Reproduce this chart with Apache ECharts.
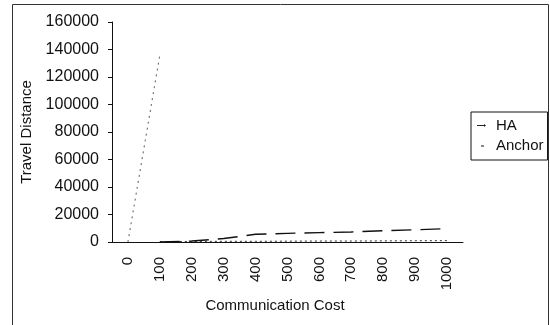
<!DOCTYPE html>
<html>
<head>
<meta charset="utf-8">
<script src="https://cdn.jsdelivr.net/npm/echarts@6/dist/echarts.min.js"></script>
<style>html,body{margin:0;padding:0;background:#fff;}#c{width:550px;height:325px;}</style>
</head>
<body>
<div id="c"></div>
<script>
var categories = ['0','100','200','300','400','500','600','700','800','900','1000'];
var haValues = [null, 300, 400, 500, 500, 600, 700, 700, 800, 900, 1000];
var anchorValues = [null, 0, 700, 2500, 5600, 6300, 6800, 7300, 8200, 8900, 9700];
var spikeValues = [0, 136000, null, null, null, null, null, null, null, null, null];
var yTicks = {min: 0, max: 160000, interval: 20000};

var font = 'Liberation Sans';
var chart = echarts.init(document.getElementById('c'), null, {renderer: 'canvas'});
chart.setOption({
  animation: false,
  backgroundColor: '#fff',
  grid: {left: 112, right: 87, top: 22, bottom: 83},
  graphic: [{
    type: 'rect', silent: true, z: 100,
    shape: {x: 12.5, y: 4.5, width: 536, height: 340},
    style: {fill: 'none', stroke: '#333', lineWidth: 1}
  }],
  legend: {
    orient: 'vertical', left: 471, top: 112,
    backgroundColor: '#fff',
    borderColor: '#111', borderWidth: 1, borderRadius: 0,
    padding: [6, 4, 7, 6], itemGap: 5,
    itemWidth: 9, itemHeight: 8,
    textStyle: {fontFamily: font, fontSize: 15, color: '#111', padding: [0, 0, 0, 5]},
    data: [
      {name: 'HA', icon: 'path://M0,4 L7,4 L7,3 L9,4.5 L7,6 L7,5 L0,5 Z', itemStyle: {color: '#222'}},
      {name: 'Anchor', icon: 'path://M0,0 M9,8 M4,4 L7,4 L7,5 L4,5 Z', itemStyle: {color: '#111'}}
    ]
  },
  xAxis: {
    type: 'category', data: categories, boundaryGap: true,
    name: 'Communication Cost', nameLocation: 'middle', nameGap: 56,
    nameTextStyle: {fontFamily: font, fontSize: 15, color: '#111', padding: [0, 25, 0, 0]},
    axisLine: {lineStyle: {color: '#111', width: 1}},
    axisTick: {inside: true, length: 4, lineStyle: {color: '#111'}},
    axisLabel: {rotate: 90, margin: 15, fontFamily: font, fontSize: 15, color: '#111', interval: 0}
  },
  yAxis: {
    type: 'value', min: yTicks.min, max: yTicks.max, interval: yTicks.interval,
    name: 'Travel Distance', nameLocation: 'middle', nameGap: 60,
    nameTextStyle: {fontFamily: font, fontSize: 15, color: '#111'},
    axisLine: {show: true, lineStyle: {color: '#111', width: 1}},
    axisTick: {show: true, length: 4, lineStyle: {color: '#111'}},
    splitLine: {show: false},
    axisLabel: {margin: 13, fontFamily: font, fontSize: 16, color: '#111',
      formatter: function (v) { return String(v); }}
  },
  series: [
    {
      name: 'spike', type: 'line', data: spikeValues, symbol: 'none',
      lineStyle: {color: '#777', width: 1.2, type: [2, 4]}, z: 1
    },
    {
      name: 'HA', type: 'line', data: haValues, symbol: 'none',
      itemStyle: {color: '#222'},
      lineStyle: {color: '#333', width: 1, type: [2, 3]}
    },
    {
      name: 'Anchor', type: 'line', data: anchorValues, symbol: 'none',
      itemStyle: {color: '#111'},
      lineStyle: {color: '#111', width: 1.4, type: [20, 9]}
    }
  ]
});
</script>
</body>
</html>
